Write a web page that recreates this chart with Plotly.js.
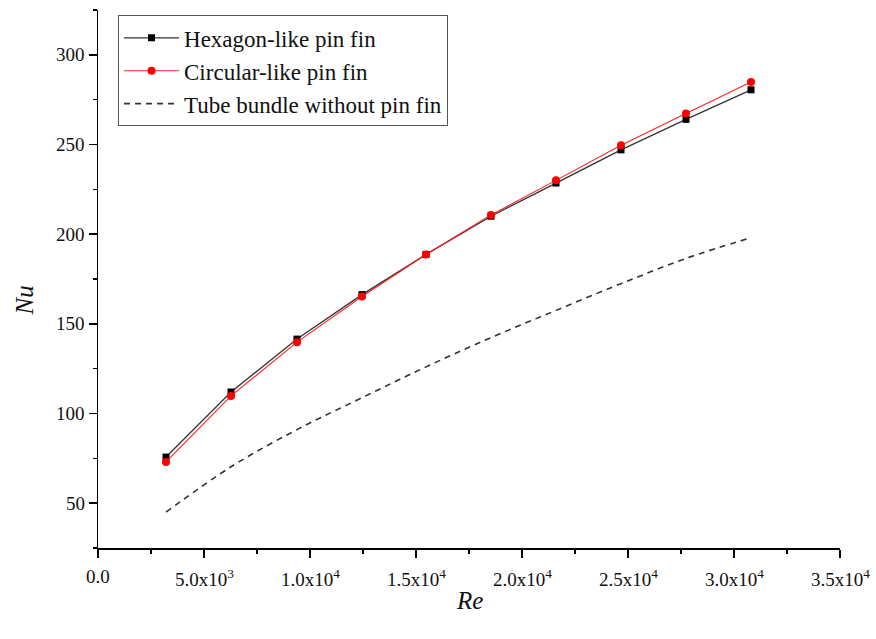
<!DOCTYPE html>
<html>
<head>
<meta charset="utf-8">
<script src="https://cdn.plot.ly/plotly-3.0.1.min.js"></script>
<style>
html,body{margin:0;padding:0;background:#fff;}
#chart{width:876px;height:639px;}
</style>
</head>
<body>
<div id="chart"></div>
<script>
const re = [3208, 6274, 9387, 12453, 15472, 18538, 21604, 24670, 27736, 30802];
const nuHexagon = [75.7, 112, 141.5, 166.3, 188.7, 210, 228.5, 247, 264, 280.5];
const nuCircular = [73, 109.8, 139.8, 165.2, 188.7, 210.7, 230, 249.6, 267.3, 284.8];
const nuTube = [45, 70.3, 91, 108.8, 126, 142.3, 157.5, 172.4, 186.5, 198];
const xTickVals = [0, 5000, 10000, 15000, 20000, 25000, 30000, 35000];
const xTickText = ['0.0', '5.0x10<sup>3</sup>', '1.0x10<sup>4</sup>', '1.5x10<sup>4</sup>', '2.0x10<sup>4</sup>', '2.5x10<sup>4</sup>', '3.0x10<sup>4</sup>', '3.5x10<sup>4</sup>'];
const yTickVals = [50, 100, 150, 200, 250, 300];
const yTickText = ['50', '100', '150', '200', '250', '300'];
const names = ['Hexagon-like pin fin', 'Circular-like pin fin', 'Tube bundle without pin fin'];
const xTitle = '<i>Re</i>';
const yTitle = '<i>Nu</i>';

const traces = [
  {x: re, y: nuHexagon, name: names[0], mode: 'lines+markers', type: 'scatter',
   line: {color: '#333333', width: 1.3}, marker: {symbol: 'square', size: 7, color: '#000000'}},
  {x: re, y: nuCircular, name: names[1], mode: 'lines+markers', type: 'scatter',
   line: {color: '#ff2020', width: 1.1}, marker: {symbol: 'circle', size: 8, color: '#ff0000'}},
  {x: re, y: nuTube, name: names[2], mode: 'lines', type: 'scatter', line: {shape: 'spline',
   color: '#333333', width: 1.6, dash: '6px,5px'}}
];

const fam = 'Liberation Serif';
const tickFont = {family: fam, size: 19, color: '#111111'};
const annotations = [];
xTickVals.forEach((v, i) => annotations.push({x: v, xref: 'x', y: 0, yref: 'paper', yanchor: 'top', xanchor: 'center',
  yshift: -16, text: xTickText[i], showarrow: false, font: tickFont}));
yTickVals.forEach((v, i) => annotations.push({x: 0, xref: 'paper', y: v, yref: 'y', xanchor: 'right', yanchor: 'middle',
  xshift: -11, text: yTickText[i], showarrow: false, font: tickFont}));
annotations.push({x: 0.5, xref: 'paper', y: 0, yref: 'paper', xanchor: 'center', yanchor: 'middle', yshift: -52,
  text: xTitle, showarrow: false, font: {family: fam, size: 25, color: '#111111'}});
annotations.push({x: 0, xref: 'paper', y: 0.46, yref: 'paper', xanchor: 'center', yanchor: 'middle', xshift: -73,
  textangle: -90, text: yTitle, showarrow: false, font: {family: fam, size: 25, color: '#111111'}});

const layout = {
  width: 876, height: 639,
  margin: {l: 98, r: 36, t: 10, b: 91},
  paper_bgcolor: '#ffffff', plot_bgcolor: '#ffffff',
  font: {family: fam, size: 19, color: '#111111'},
  showlegend: true,
  legend: {x: 0.027, y: 0.99, xanchor: 'left', yanchor: 'top', bordercolor: '#555555', borderwidth: 1,
    bgcolor: '#ffffff', font: {family: fam, size: 23, color: '#111111'}, tracegroupgap: 0, itemwidth: 55},
  annotations: annotations,
  xaxis: {range: [0, 35000], tickmode: 'array', tickvals: xTickVals, showticklabels: false, showgrid: false, zeroline: false,
    showline: true, linecolor: '#000000', linewidth: 1.5, ticks: 'outside', ticklen: 8, tickwidth: 1.5, tickcolor: '#000',
    minor: {dtick: 2500, tick0: 0, ticks: 'outside', ticklen: 4, tickcolor: '#000', tickwidth: 1.2, showgrid: false}},
  yaxis: {range: [25, 325], tickmode: 'array', tickvals: yTickVals, showticklabels: false, showgrid: false, zeroline: false,
    showline: true, linecolor: '#000000', linewidth: 1.5, ticks: 'outside', ticklen: 8, tickwidth: 1.5, tickcolor: '#000',
    minor: {dtick: 25, tick0: 0, ticks: 'outside', ticklen: 4, tickcolor: '#000', tickwidth: 1.2, showgrid: false}}
};
Plotly.newPlot('chart', traces, layout, {displayModeBar: false, staticPlot: true});
</script>
</body>
</html>
